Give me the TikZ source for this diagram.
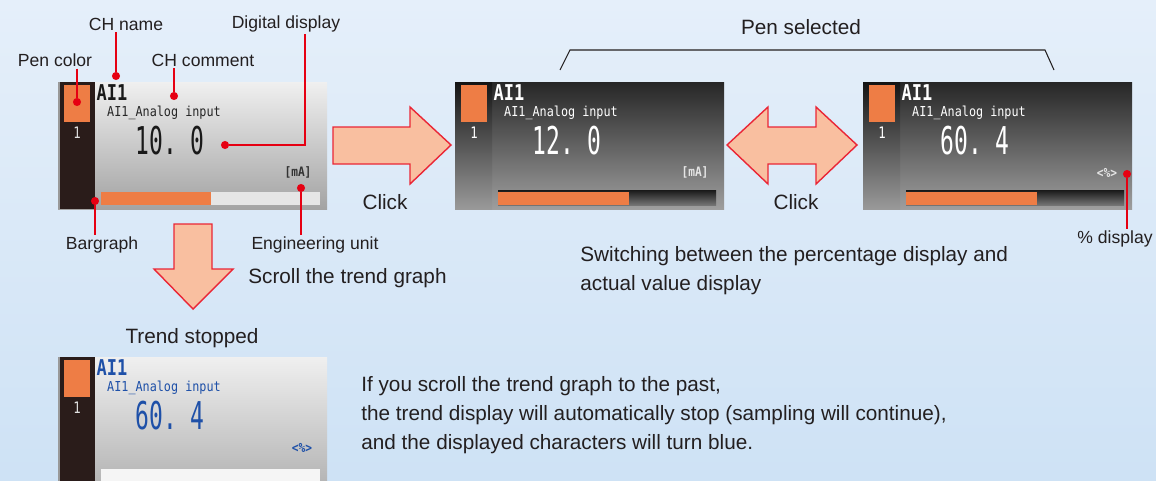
\documentclass[tikz,border=0pt]{standalone}
\usepackage{fontspec}
\setmainfont{Liberation Sans}
\newfontfamily\chfont[FakeStretch=0.78]{DejaVu Sans Mono}
\newfontfamily\scrfont[FakeStretch=0.86]{DejaVu Sans Mono}
\newfontfamily\numfont[FakeStretch=0.6]{DejaVu Sans Mono}
\usetikzlibrary{positioning}

\definecolor{bgtop}{HTML}{E5EFFA}
\definecolor{bgbot}{HTML}{CEE2F5}
\definecolor{penorange}{HTML}{EE7D45}
\definecolor{arrowfill}{HTML}{F9BFA0}
\definecolor{calloutred}{HTML}{E60012}
\definecolor{stopblue}{HTML}{1E50A8}
\definecolor{txt}{HTML}{231F20}
\definecolor{striplt}{HTML}{2A1C1A}

\tikzset{
  lbl/.style={font=\fontsize{10}{12}\selectfont, text=txt, inner sep=1pt},
  note/.style={font=\fontsize{11.8}{14}\selectfont, text=txt, inner sep=0pt, align=left},
  dotred/.style={circle, fill=calloutred, inner sep=0pt, minimum size=4.6pt},
  callout/.style={calloutred, line width=1.5pt},
  bigarrow/.style={fill=arrowfill, draw=calloutred!85, line width=0.8pt, line join=miter},
  chname/.style={font=\chfont\bfseries\fontsize{12.4}{13}\selectfont, inner sep=0pt},
  chcomment/.style={font=\scrfont\fontsize{7.8}{9}\selectfont, inner sep=0pt},
  bignum/.style={font=\numfont\fontsize{21.8}{23}\selectfont, inner sep=0pt},
  unitlbl/.style={font=\scrfont\bfseries\fontsize{7.4}{9}\selectfont, inner sep=0pt},
  pennum/.style={font=\chfont\fontsize{9}{10}\selectfont, inner sep=0pt},
}

\begin{document}
\begin{tikzpicture}[x=0.02cm, y=-0.02cm]
    % 背景
    \clip (0,0) rectangle (1156,480);
    \shade[top color=bgtop, bottom color=bgbot] (0,0) rectangle (1156,480);

    % 通常表示（浅色）
    \shade[top color=black!6, bottom color=black!36] (58,82) rectangle (327,209);
    \fill[striplt] (58,82) rectangle (95,209);
    \fill[black!40] (58,82) rectangle (60,209);
    \fill[penorange] (64,85) rectangle (90,122);
    \node[pennum, text=black!12] (pen1) at (77,133) {1};
    \node[chname, text=black!90] (name1) at (112,93) {AI1};
    \node[chcomment, text=black!85] (cmt1) at (164,113) {AI1\_Analog input};
    \node[bignum, text=black!90] (val1) at (170,141) {10.\ 0};
    \node[unitlbl, text=black!80] (unit1) at (298,172) {[mA]};
    \fill[black!10] (101,192) rectangle (320,205);
    \fill[penorange] (101,192) rectangle (211,205);

    % 笔选择（实际值）
    \begin{scope}[shift={(397,0)}]
      \shade[top color=black!85, bottom color=black!38] (58,82) rectangle (327,209);
      \shade[top color=black!92, middle color=black!85, bottom color=black!40] (58,82) rectangle (95,209);
      \fill[penorange] (64,85) rectangle (90,122);
      \node[pennum, text=white] (pen2) at (77,133) {1};
      \node[chname, text=white] (name2) at (112,93) {AI1};
      \node[chcomment, text=white] (cmt2) at (164,113) {AI1\_Analog input};
      \node[bignum, text=white] (val2) at (170,141) {12.\ 0};
      \node[unitlbl, text=white!90!black] (unit2) at (298,172) {[mA]};
      \shade[top color=black!90, bottom color=black!55] (101,190) rectangle (319,205);
      \fill[penorange] (101,192) rectangle (232,205);
    \end{scope}

    % 笔选择（百分比）
    \begin{scope}[shift={(805,0)}]
      \shade[top color=black!85, bottom color=black!38] (58,82) rectangle (327,209);
      \shade[top color=black!92, middle color=black!85, bottom color=black!40] (58,82) rectangle (95,209);
      \fill[penorange] (64,85) rectangle (90,122);
      \node[pennum, text=white] (pen3) at (77,133) {1};
      \node[chname, text=white] (name3) at (112,93) {AI1};
      \node[chcomment, text=white] (cmt3) at (164,113) {AI1\_Analog input};
      \node[bignum, text=white] (val3) at (170,141) {60.\ 4};
      \node[unitlbl, text=white!90!black] (unit3) at (302,173) {<\%>};
      \shade[top color=black!90, bottom color=black!55] (101,190) rectangle (319,205);
      \fill[penorange] (101,192) rectangle (232,205);
    \end{scope}

    % 趋势停止（蓝字）
    \begin{scope}[shift={(0,275)}]
      \shade[top color=black!6, bottom color=black!30] (58,82) rectangle (327,212);
      \fill[striplt] (58,82) rectangle (95,212);
      \fill[black!40] (58,82) rectangle (60,212);
      \fill[penorange] (64,85) rectangle (90,122);
      \node[pennum, text=black!12] (pen4) at (77,133) {1};
      \node[chname, text=stopblue] (name4) at (112,93) {AI1};
      \node[chcomment, text=stopblue] (cmt4) at (164,113) {AI1\_Analog input};
      \node[bignum, text=stopblue] (val4) at (170,141) {60.\ 4};
      \node[unitlbl, text=stopblue] (unit4) at (302,173) {<\%>};
      \fill[black!4] (101,194) rectangle (320,212);
    \end{scope}

    % 大箭头
    \draw[bigarrow] (333,127) -- (410,127) -- (410,107) -- (451,145) -- (410,184)
        -- (410,164) -- (333,164) -- cycle;
    \draw[bigarrow] (727,145) -- (768,107) -- (768,127) -- (816,127) -- (816,107)
        -- (857,145) -- (816,184) -- (816,164) -- (768,164) -- (768,184) -- cycle;
    \draw[bigarrow] (174,224) -- (212,224) -- (212,269) -- (233,269) -- (193,309)
        -- (154,269) -- (174,269) -- cycle;

    % 引出线标注
    \node[lbl] (pencolor) at (55,60) {Pen color};
    \node[lbl] (chnm) at (126,24) {CH name};
    \node[lbl] (chcmt) at (203,60) {CH comment};
    \node[lbl] (digdisp) at (286,24) {Digital display};
    \node[lbl] (engunit) at (315,245) {Engineering unit};
    \node[lbl] (bargraph) at (102,245) {Bargraph};
    \node[lbl] (pctdisp) at (1115,239) {\% display};

    \node[dotred] (pendot) at (77,102) {};
    \node[dotred] (namedot) at (116,76) {};
    \node[dotred] (cmtdot) at (174,96) {};
    \node[dotred] (digdot) at (225,145) {};
    \node[dotred] (engdot) at (301,188) {};
    \node[dotred] (bardot) at (95,201) {};
    \node[dotred] (pctdot) at (1127,174) {};
    \coordinate (digcorner) at (305,145);

    \draw[callout] (pendot |- pencolor.south) -- (pendot);
    \draw[callout] (namedot |- chnm.south) -- (namedot);
    \draw[callout] (cmtdot |- chcmt.south) -- (cmtdot);
    \draw[callout] (digcorner |- digdisp.south) -- (digcorner) -- (digdot);
    \draw[callout] (engdot) -- (engdot |- engunit.north);
    \draw[callout] (bardot) -- (bardot |- bargraph.north);
    \draw[callout] (pctdot) -- (pctdot |- pctdisp.north);

    % 说明文字
    \node[note] (click1) at (385,202) {Click};
    \node[note] (click2) at (796,202) {Click};
    \node[note] (pensel) at (801,27) {Pen selected};
    \draw[txt, line width=0.6pt] (560,70) -- (570,50) -- (1045,50) -- (1054,70);
    \node[note, anchor=west] (scroll) at (248,278) {Scroll the trend graph};
    \node[note, anchor=base west, font=\fontsize{11.8}{16.4}\selectfont]
        (switching) at (580,290) {Switching between the percentage display and\\actual value display};
    \node[note] (stopped) at (192,338) {Trend stopped};
    \node[note, anchor=base west, font=\fontsize{11.8}{16.4}\selectfont]
        (pastnote) at (361,449) {If you scroll the trend graph to the past,\\
        the trend display will automatically stop (sampling will continue),\\
        and the displayed characters will turn blue.};
\end{tikzpicture}
\end{document}
